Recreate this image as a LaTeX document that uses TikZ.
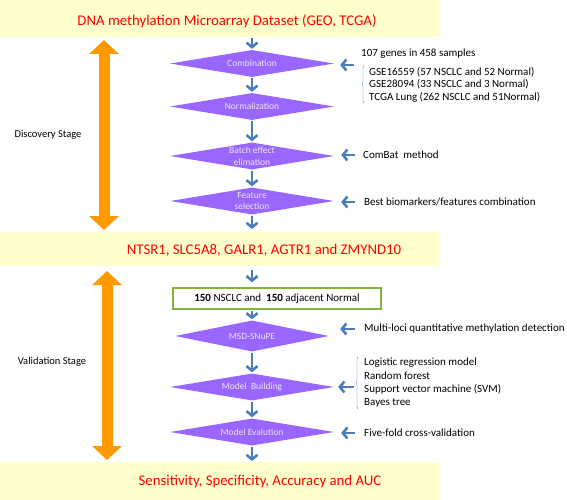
\documentclass[tikz,border=0pt]{standalone}
\usepackage{fontspec}
\setmainfont{Carlito}
\usetikzlibrary{shapes.geometric,arrows.meta,decorations.pathreplacing}

\definecolor{bandyellow}{RGB}{255,255,204}
\definecolor{stepviolet}{RGB}{153,102,255}
\definecolor{steptext}{RGB}{236,228,255}
\definecolor{flowblue}{RGB}{74,126,187}
\definecolor{stageorange}{RGB}{255,153,0}
\definecolor{boxgreen}{RGB}{130,180,60}

\begin{document}
\begin{tikzpicture}[x=1pt,y=-1pt,
  band/.style={fill=bandyellow, minimum width=440pt, inner sep=0pt, anchor=north west},
  result/.style={text=red, font=\fontsize{14.8}{17}\selectfont},
  stepbox/.style={diamond, aspect=6, fill=stepviolet, text=steptext, inner sep=0pt,
    minimum width=164pt, minimum height=27pt, align=center,
    font=\fontsize{9.5}{11.5}\selectfont},
  cohortbox/.style={draw=boxgreen, line width=1.5pt, minimum width=208pt,
    minimum height=21pt, inner sep=2pt, font=\fontsize{11}{13}\selectfont},
  note/.style={anchor=west, inner sep=1pt, align=left, font=\fontsize{11}{12.5}\selectfont},
  stage/.style={font=\fontsize{10.5}{12}\selectfont},
  flow/.style={draw=flowblue, line width=2.6pt, -{Straight Barb[length=4.5pt,width=11pt]},
    shorten <=1pt, shorten >=1pt},
  stagearrow/.style={draw=stageorange, line width=11pt,
    {Triangle[length=14pt,width=29pt]}-{Triangle[length=14pt,width=29pt]}},
  bracket/.style={draw=flowblue, thin, decorate, decoration={brace, amplitude=2pt}}]
\useasboundingbox (0,0) rectangle (567,500);

% bands
\node[band, minimum height=37pt] (top) at (0,0) {};
\node[band, minimum height=34pt] (mid) at (0,232) {};
\node[band, minimum height=38pt] (bottom) at (0,462) {};

\node[result] (dataset) at (227,21) {DNA methylation Microarray Dataset (GEO, TCGA)};
\node[result] (genes) at (264,250) {NTSR1, SLC5A8, GALR1, AGTR1 and ZMYND10};
\node[result] (metrics) at (260,482) {Sensitivity, Specificity, Accuracy and AUC};

% steps
\node[stepbox] (comb) at (252,63.5) {Combination};
\node[stepbox] (norm) at (252,106.5) {Normalization};
\node[stepbox] (batch) at (252,156) {Batch effect\\elimation};
\node[stepbox] (feat) at (252,201) {Feature\\selection};
\node[cohortbox] (cohort) at (277,298.5) {\textbf{150} NSCLC and \ \textbf{150} adjacent Normal};
\node[stepbox, minimum width=154pt, minimum height=31pt] (msd) at (252,336) {MSD-SNuPE};
\node[stepbox] (build) at (252,387) {Model \ Building};
\node[stepbox] (eval) at (252,432) {Model Evalution};

\draw[flow] (top.south -| comb) -- (comb.north);
\draw[flow] (comb) -- (norm);
\draw[flow] (norm) -- (batch);
\draw[flow] (batch) -- (feat);
\draw[flow, shorten >=3pt] (feat) -- (mid.north -| feat);
\draw[flow, shorten <=4pt, shorten >=5pt] (mid.south -| msd) -- (cohort.north -| msd);
\draw[flow] (cohort.south -| msd) -- (msd.north);
\draw[flow] (msd) -- (build);
\draw[flow] (build) -- (eval);
\draw[flow] (eval) -- (bottom.north -| eval);

% side notes
\node[note] (samples) at (360,54) {107 genes in 458 samples};
\node[note] (datasets) at (368,84.5) {GSE16559 (57 NSCLC and 52 Normal)\\
  GSE28094 (33 NSCLC and 3 Normal)\\TCGA Lung (262 NSCLC and 51Normal)};
\draw[bracket] ([xshift=-4pt]datasets.south west) -- ([xshift=-4pt]datasets.north west);
\coordinate (combin) at (355,65);
\draw[flow, shorten >=6pt] (combin) -- (combin -| comb.east);

\node[note] (combat) at (362,155) {ComBat \ method};
\draw[flow, shorten <=7pt, shorten >=7pt] (combat.west) -- (combat.west -| batch.east);

\node[note] (best) at (363,202) {Best biomarkers/features combination};
\draw[flow, shorten <=8pt, shorten >=7pt] (best.west) -- (best.west -| feat.east);

\node[note] (multi) at (363,329) {Multi-loci quantitative methylation detection};
\draw[flow, shorten <=8pt, shorten >=11pt] (multi.west) -- (multi.west -| msd.east);

\node[note, font=\fontsize{11}{13.3}\selectfont] (models) at (363,383) {Logistic regression model\\
  Random forest\\Support vector machine (SVM)\\Bayes tree};
\draw[bracket] ([xshift=-5pt]models.south west) -- ([xshift=-5pt]models.north west);
\coordinate (modelin) at (355,387);
\draw[flow, shorten >=4pt] (modelin) -- (modelin -| build.east);

\node[note] (fivefold) at (363,433) {Five-fold cross-validation};
\draw[flow, shorten <=8pt, shorten >=7pt] (fivefold.west) -- (fivefold.west -| eval.east);

% stages
\node[stage] (discovery) at (48,135) {Discovery Stage};
\node[stage] (validation) at (52,362) {Validation Stage};
\coordinate (disctop) at (104,40);
\coordinate (discbot) at (104,230);
\coordinate (valtop) at (107,271);
\coordinate (valbot) at (107,460);
\draw[stagearrow] (disctop) -- (discbot);
\draw[stagearrow] (valtop) -- (valbot);
\end{tikzpicture}
\end{document}
